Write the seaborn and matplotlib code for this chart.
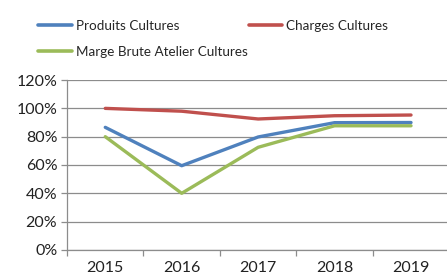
import matplotlib
matplotlib.use("Agg")
import matplotlib.pyplot as plt
import seaborn as sns
import pandas as pd
from matplotlib.ticker import FuncFormatter, FixedLocator
from matplotlib.lines import Line2D

years = ["2015", "2016", "2017", "2018", "2019"]
produits = [86.6, 59.5, 79.8, 89.9, 90.0]
charges = [100.0, 98.0, 92.5, 94.8, 95.3]
marge = [80.0, 40.0, 72.5, 87.7, 87.7]
series_names = ["Produits Cultures", "Charges Cultures", "Marge Brute Atelier Cultures"]
colors = ["#4F81BD", "#C0504D", "#9BBB59"]

rows = []
for name, vals in zip(series_names, [produits, charges, marge]):
    for i, (y, v) in enumerate(zip(years, vals)):
        rows.append({"pos": i, "year": y, "value": v, "series": name})
df = pd.DataFrame(rows)

sns.set_theme(style="white")
plt.rcParams["font.family"] = ["Lato", "DejaVu Sans"]

fig = plt.figure(figsize=(4.47, 2.78), dpi=100)
ax = fig.add_axes([0.150, 0.101, 0.855, 0.611])

sns.lineplot(data=df, x="pos", y="value", hue="series", hue_order=series_names,
             palette=colors, linewidth=2.4, ax=ax, legend=False)

ax.set_xlim(-0.5, 4.5)
ax.set_ylim(0, 120)
ax.set_yticks([0, 20, 40, 60, 80, 100, 120])
ax.yaxis.set_major_formatter(FuncFormatter(lambda v, p: f"{int(v)}%"))
ax.grid(axis="y", color="#8C8C8C", linewidth=0.9)
ax.set_axisbelow(True)

ax.set_xticks(range(len(years)))
ax.set_xticklabels(years)
ax.xaxis.set_minor_locator(FixedLocator([-0.5, 0.5, 1.5, 2.5, 3.5, 4.5]))
ax.tick_params(axis="x", which="major", length=0, labelsize=11.5, pad=8, colors="#222222")
ax.tick_params(axis="x", which="minor", length=4, width=0.9, color="#8C8C8C", direction="out", bottom=True)
ax.tick_params(axis="y", which="major", length=4, width=0.9, color="#8C8C8C", direction="out",
               left=True, labelsize=11.5, pad=3, labelcolor="#222222")
ax.set_xlabel("")
ax.set_ylabel("")
for s in ["top", "right"]:
    ax.spines[s].set_visible(False)
for s in ["left", "bottom"]:
    ax.spines[s].set_color("#8C8C8C")
    ax.spines[s].set_linewidth(0.9)

handles = [Line2D([], [], color=c, linewidth=2.6) for c in colors]
order = [0, 2, 1]
fig.legend([handles[i] for i in order], [series_names[i] for i in order],
           ncol=2, loc="upper left", bbox_to_anchor=(0.065, 0.962), frameon=False,
           fontsize=9.7, handlelength=2.5, handletextpad=0.25, columnspacing=0.1,
           labelspacing=1.05, borderaxespad=0.3)

fig.savefig("out.png", dpi=100)
